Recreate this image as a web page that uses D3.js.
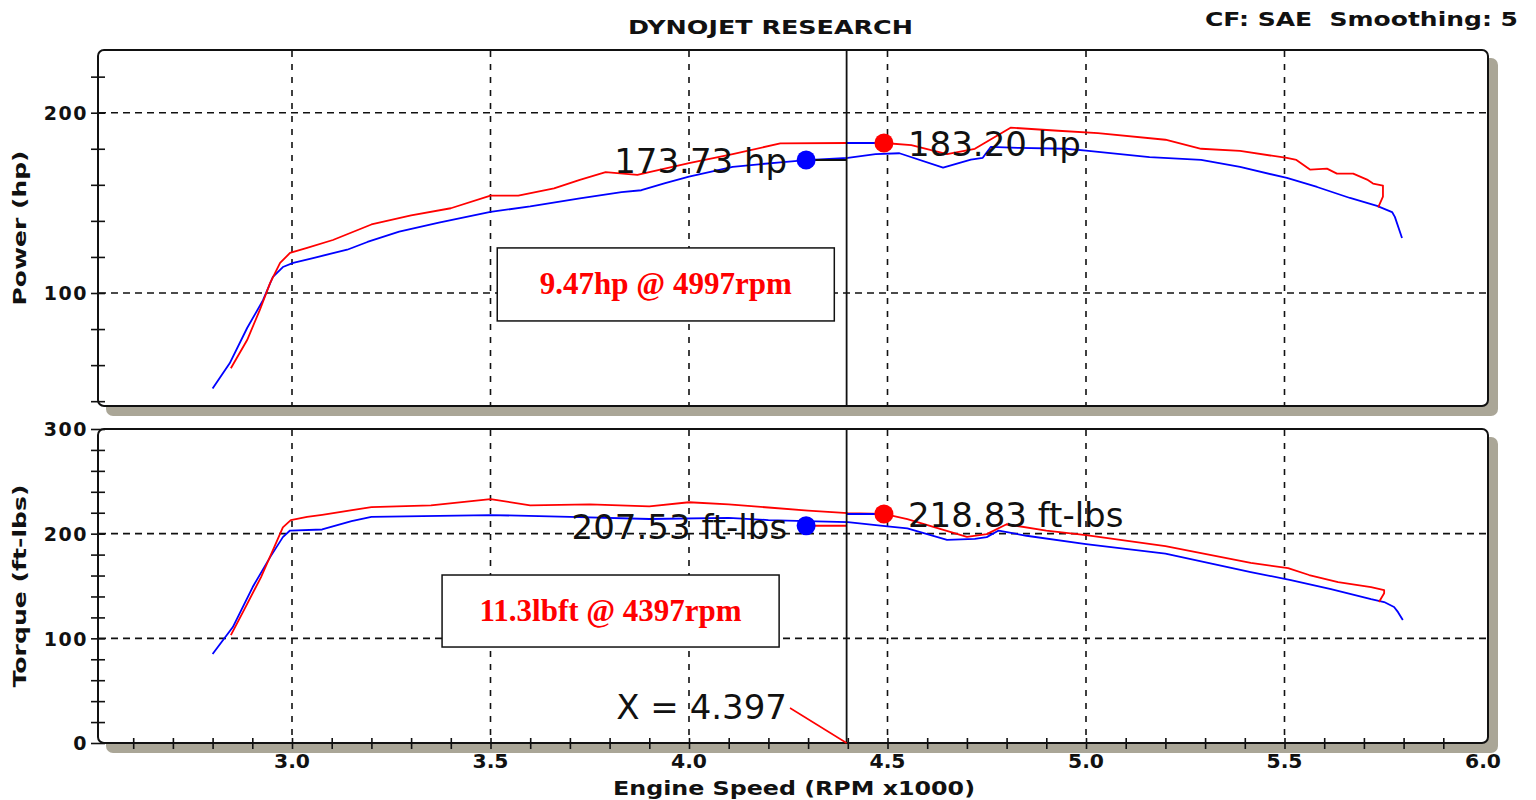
<!DOCTYPE html>
<html>
<head>
<meta charset="utf-8">
<script src="https://cdn.jsdelivr.net/npm/d3@7"></script>
<style>
body { margin: 0; background: #fff; }
svg { display: block; }
</style>
</head>
<body>
<svg id="chart" width="1536" height="800"></svg>
<script>
// run 1 (blue) and run 2 (red), rpm x1000
const bluePowerRpm = [2.80, 2.843, 2.887, 2.927, 2.952, 2.977, 3.003, 3.053, 3.139, 3.19, 3.27, 3.37, 3.50, 3.60, 3.725, 3.83, 3.88, 3.94, 4.00, 4.11, 4.23, 4.295, 4.40, 4.47, 4.53, 4.64, 4.71, 4.74, 4.76, 4.83, 4.95, 5.00, 5.16, 5.29, 5.388, 5.506, 5.582, 5.665, 5.733, 5.771, 5.778, 5.796];
const bluePowerHp = [47, 61, 80.6, 96, 109, 114.4, 116.7, 119.4, 124, 128.3, 134, 139, 145, 148, 152.5, 156, 157, 161, 164.5, 170, 172.5, 173.7, 175, 177, 177.5, 169.5, 174, 175, 181, 180.5, 180, 179, 175.4, 173.8, 169.9, 163.8, 158.8, 152.7, 148.3, 144.9, 142.2, 130.5];

const redPowerRpm = [2.846, 2.887, 2.919, 2.945, 2.97, 2.995, 3.038, 3.103, 3.2, 3.3, 3.4, 3.5, 3.57, 3.66, 3.725, 3.79, 3.87, 3.9, 4.0, 4.11, 4.23, 4.40, 4.491, 4.56, 4.65, 4.72, 4.81, 4.93, 5.03, 5.2, 5.29, 5.388, 5.506, 5.53, 5.565, 5.607, 5.632, 5.673, 5.708, 5.723, 5.748, 5.748, 5.736];
const redPowerHp = [58.3, 73.9, 90.6, 105.6, 116.7, 122.2, 125, 129.4, 138, 143, 147, 154, 154, 158, 162.8, 167, 165.5, 167, 172, 177, 183, 183.2, 183.2, 182, 177, 180, 191.7, 190, 188.7, 185, 180, 178.8, 174.9, 173.8, 168.4, 169, 166.2, 166.2, 162.9, 160.7, 159.6, 153.5, 147.5];

const blueTorqueRpm = [2.80, 2.851, 2.901, 2.945, 2.977, 2.995, 3.076, 3.15, 3.2, 3.5, 3.7, 3.9, 4.1, 4.2, 4.295, 4.4, 4.5, 4.55, 4.65, 4.72, 4.75, 4.78, 4.85, 5.0, 5.2, 5.415, 5.516, 5.617, 5.718, 5.751, 5.776, 5.786, 5.798];
const blueTorqueLbft = [85, 110.8, 149, 177.6, 196.7, 203, 204, 212, 216, 217.8, 216, 214, 215, 213, 212, 211, 207, 205, 194, 195, 196.7, 203, 198, 190, 181, 163.3, 155.7, 147, 137.5, 134.7, 130, 125, 117.5];

const redTorqueRpm = [2.846, 2.879, 2.922, 2.955, 2.977, 2.997, 3.038, 3.076, 3.2, 3.35, 3.5, 3.6, 3.75, 3.9, 4.0, 4.1, 4.2, 4.3, 4.4, 4.491, 4.55, 4.7, 4.75, 4.8, 4.9, 5.0, 5.2, 5.415, 5.509, 5.562, 5.635, 5.718, 5.751, 5.751, 5.738];
const redTorqueLbft = [103, 127, 158.5, 187, 206, 213, 216, 218, 225.4, 227, 233, 227, 228, 226, 230, 228, 225, 222, 219.7, 218.8, 214, 197, 199.6, 209, 203, 198.7, 188, 172, 167, 160.5, 153.8, 149, 146, 143, 134.7];

// cursor and peak markers
const cursorRpm = 4.397;
const powerMarkers = [{ rpm: 4.295, value: 173.73, color: "#0000ff", label: "173.73 hp", side: "left" },
                      { rpm: 4.491, value: 183.20, color: "#ff0000", label: "183.20 hp", side: "right" }];
const torqueMarkers = [{ rpm: 4.295, value: 207.53, color: "#0000ff", label: "207.53 ft-lbs", side: "left" },
                       { rpm: 4.491, value: 218.83, color: "#ff0000", label: "218.83 ft-lbs", side: "right" }];
const powerNote = "9.47hp @ 4997rpm";
const torqueNote = "11.3lbft @ 4397rpm";

const xTickLabels = [3.0, 3.5, 4.0, 4.5, 5.0, 5.5, 6.0];
const powerTickLabels = [100, 200];
const torqueTickLabels = [0, 100, 200, 300];

const svg = d3.select("#chart");
const left = 98, right = 1488;
const x = d3.scaleLinear().domain([3, 6]).range([292, 1483]);
const yPow = d3.scaleLinear().domain([100, 200]).range([293, 112.7]);
const yTrq = d3.scaleLinear().domain([0, 300]).range([743, 429]);

const shadow = "#aaa697";
const boldFont = "'DejaVu Sans', Verdana, sans-serif";

// bold label helper, stretched to the width seen in the picture
function boldText(sel, size, len) {
    sel.attr("font-family", boldFont).attr("font-weight", "bold")
        .attr("font-size", size).attr("fill", "#111");
    if (len) sel.attr("textLength", len).attr("lengthAdjust", "spacingAndGlyphs");
    return sel;
}

function panel(top, bottom, y, yMin, yMax, yLabels, grid, title, titleY, titleLen) {
    const g = svg.append("g");
    // drop shadow
    g.append("rect")
        .attr("x", left + 8).attr("y", top + 8)
        .attr("width", right - left + 2).attr("height", bottom - top + 2)
        .attr("rx", 7).attr("fill", shadow);
    g.append("rect")
        .attr("x", left).attr("y", top)
        .attr("width", right - left).attr("height", bottom - top)
        .attr("rx", 6).attr("fill", "#fff")
        .attr("stroke", "#111").attr("stroke-width", 2);

    // dashed grid
    g.selectAll(".vgrid")
        .data([3.0, 3.5, 4.0, 4.5, 5.0, 5.5])
        .join("line")
        .attr("x1", d => x(d)).attr("x2", d => x(d))
        .attr("y1", top + 1).attr("y2", bottom - 1)
        .attr("stroke", "#111").attr("stroke-width", 1.6)
        .attr("stroke-dasharray", "6,7");
    g.selectAll(".hgrid")
        .data(grid)
        .join("line")
        .attr("x1", left + 1).attr("x2", right - 1)
        .attr("y1", d => y(d)).attr("y2", d => y(d))
        .attr("stroke", "#111").attr("stroke-width", 1.6)
        .attr("stroke-dasharray", "7,5");

    // y axis with crossing ticks
    const ticks = d3.range(yMin, yMax + 1, 20);
    const ax = g.append("g")
        .attr("transform", `translate(${left},0)`)
        .call(d3.axisLeft(y).tickValues(ticks).tickSize(7).tickSizeOuter(0)
            .tickFormat(d => yLabels.includes(d) ? d : ""));
    ax.select(".domain").remove();
    ax.selectAll(".tick line").attr("x1", 7).attr("stroke", "#111").attr("stroke-width", 1.6);
    ax.selectAll(".tick text")
        .attr("x", -10).attr("dy", "0.36em")
        .attr("font-family", boldFont).attr("font-weight", "bold")
        .attr("font-size", 19).attr("letter-spacing", 1.5).attr("fill", "#111");

    boldText(svg.append("text"), 18, titleLen)
        .attr("transform", `translate(26,${titleY}) rotate(-90)`)
        .attr("text-anchor", "middle")
        .text(title);
    return g;
}

const gPow = panel(50, 406, yPow, 40, 220, powerTickLabels, [100, 200], "Power (hp)", 228, 155);
const gTrq = panel(429, 743, yTrq, 0, 300, torqueTickLabels, [100, 200], "Torque (ft-lbs)", 586, 203);

// bottom x axis
const xAx = svg.append("g")
    .attr("transform", "translate(0,743)")
    .call(d3.axisBottom(x).tickValues(d3.range(2.6, 6.0, 0.1)).tickSize(6).tickSizeOuter(0).tickFormat(""));
xAx.select(".domain").remove();
xAx.selectAll(".tick line").attr("y1", -5).attr("stroke", "#111").attr("stroke-width", 1.6);
boldText(svg.selectAll(".xlab").data(xTickLabels).join("text"), 19, 36)
    .attr("x", d => x(d) - 18).attr("y", 768)
    .text(d => d.toFixed(1));
boldText(svg.append("text"), 19, 362)
    .attr("x", 613).attr("y", 795)
    .text("Engine Speed (RPM x1000)");

// header texts
boldText(svg.append("text"), 19, 285)
    .attr("x", 628).attr("y", 34)
    .text("DYNOJET RESEARCH");
boldText(svg.append("text"), 20, 313)
    .attr("x", 1205).attr("y", 26)
    .attr("xml:space", "preserve")
    .text("CF: SAE  Smoothing: 5");

// curves
function curve(g, y, xs, ys, color) {
    const pts = xs.map((d, i) => [d, ys[i]]);
    g.append("path")
        .datum(pts)
        .attr("fill", "none")
        .attr("stroke", color).attr("stroke-width", 1.8)
        .attr("stroke-linejoin", "round")
        .attr("d", d3.line().x(d => x(d[0])).y(d => y(d[1])));
}
curve(gPow, yPow, bluePowerRpm, bluePowerHp, "#0000ff");
curve(gPow, yPow, redPowerRpm, redPowerHp, "#ff0000");
curve(gTrq, yTrq, blueTorqueRpm, blueTorqueLbft, "#0000ff");
curve(gTrq, yTrq, redTorqueRpm, redTorqueLbft, "#ff0000");

// cursor line
[[50, 406], [429, 743]].forEach(([t, b]) => {
    svg.append("line")
        .attr("x1", x(cursorRpm)).attr("x2", x(cursorRpm))
        .attr("y1", t).attr("y2", b)
        .attr("stroke", "#111").attr("stroke-width", 1.8);
});

// leader lines from markers to cursor
function markers(g, y, list, leftLead, rightLead) {
    const [a, b] = list;
    g.append("line")
        .attr("x1", x(a.rpm)).attr("x2", x(cursorRpm))
        .attr("y1", y(a.value)).attr("y2", y(a.value))
        .attr("stroke", leftLead).attr("stroke-width", 2);
    g.append("line")
        .attr("x1", x(cursorRpm)).attr("x2", x(b.rpm))
        .attr("y1", y(b.value)).attr("y2", y(b.value))
        .attr("stroke", rightLead).attr("stroke-width", 2);
    list.forEach(m => {
        g.append("circle")
            .attr("cx", x(m.rpm)).attr("cy", y(m.value)).attr("r", 9.5)
            .attr("fill", m.color);
        g.append("text")
            .attr("x", m.side === "left" ? x(m.rpm) - 19 : x(m.rpm) + 24)
            .attr("y", y(m.value) + 13)
            .attr("text-anchor", m.side === "left" ? "end" : "start")
            .attr("font-family", "'DejaVu Sans', Verdana, sans-serif")
            .attr("font-size", 34).attr("fill", "#111")
            .text(m.label);
    });
}
markers(gPow, yPow, powerMarkers, "#111", "#0000ff");
markers(gTrq, yTrq, torqueMarkers, "#ff0000", "#0000ff");

// delta notes
function note(x0, x1, y0, y1, txt) {
    svg.append("rect")
        .attr("x", x0).attr("y", y0)
        .attr("width", x1 - x0).attr("height", y1 - y0)
        .attr("fill", "#fff").attr("stroke", "#111").attr("stroke-width", 1.5);
    svg.append("text")
        .attr("x", (x0 + x1) / 2).attr("y", (y0 + y1) / 2 + 10)
        .attr("text-anchor", "middle")
        .attr("font-family", "'Liberation Serif', 'Times New Roman', serif")
        .attr("font-weight", "bold").attr("font-size", 31)
        .attr("fill", "#ff0000")
        .text(txt);
}
note(x(3.517), x(4.366), yPow(125), yPow(84.5), powerNote);
note(x(3.378), x(4.227), yTrq(160.5), yTrq(91.7), torqueNote);

// cursor readout
svg.append("text")
    .attr("x", 787).attr("y", 719)
    .attr("text-anchor", "end")
    .attr("font-family", "'DejaVu Sans', Verdana, sans-serif")
    .attr("font-size", 34).attr("fill", "#111")
    .text("X = " + cursorRpm.toFixed(3));
svg.append("line")
    .attr("x1", 790).attr("y1", 708)
    .attr("x2", x(cursorRpm)).attr("y2", 743)
    .attr("stroke", "#ff0000").attr("stroke-width", 1.5);
</script>
</body>
</html>
